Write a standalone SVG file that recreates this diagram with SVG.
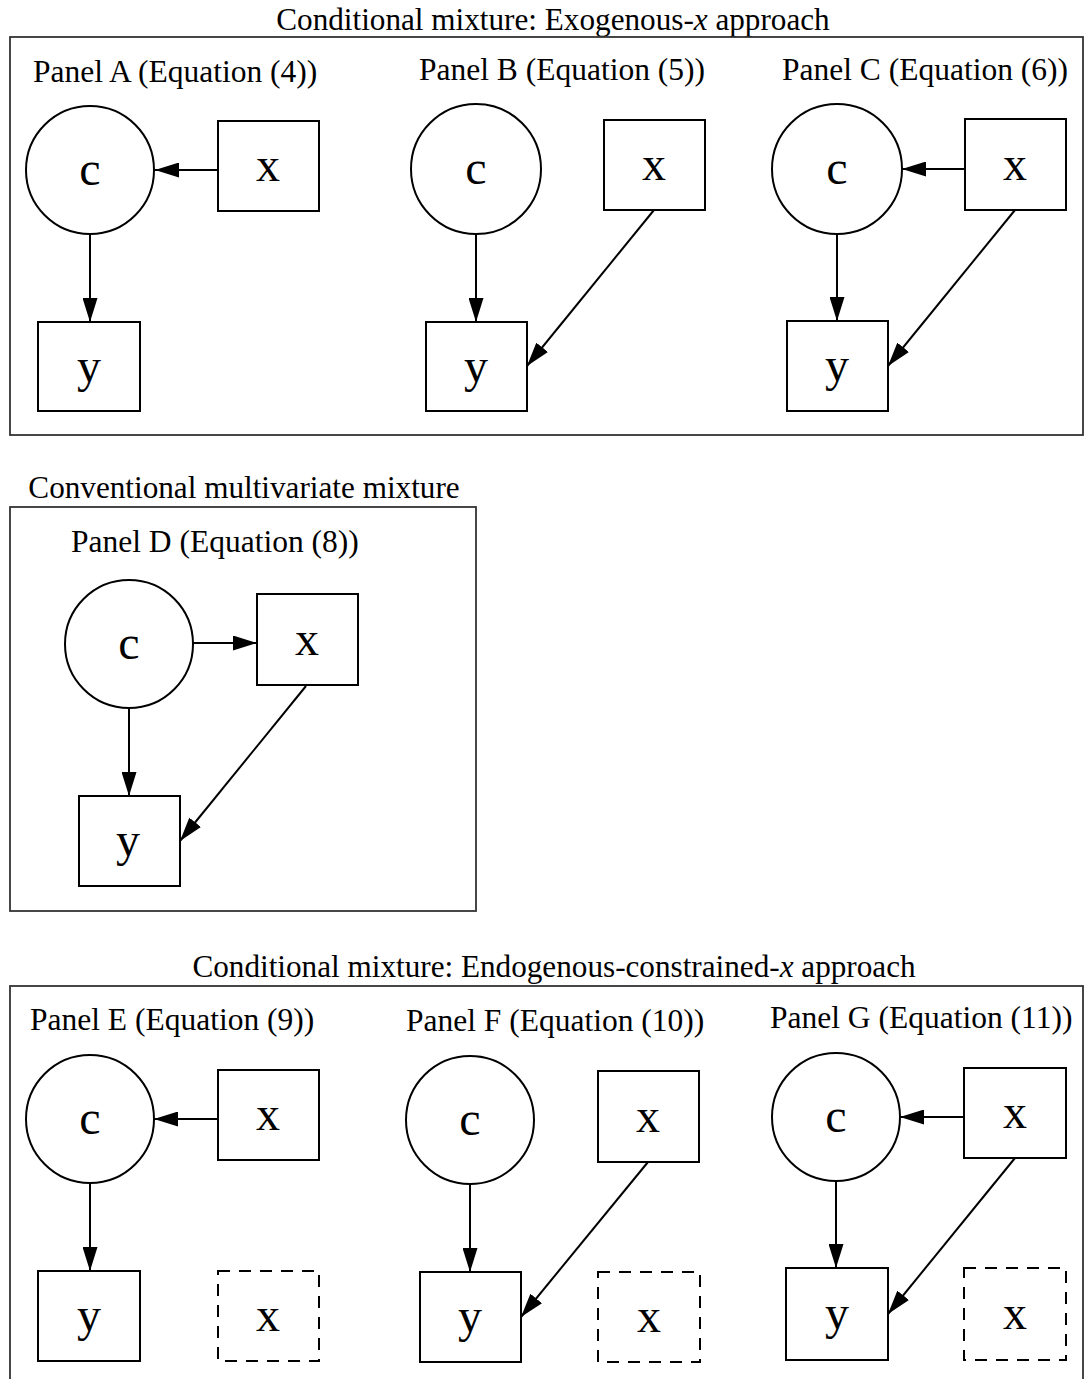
<svg xmlns="http://www.w3.org/2000/svg" width="1085" height="1379" viewBox="0 0 1085 1379">
<style>
text{font-family:"Liberation Serif","Times New Roman",serif;fill:#000}
.sec{font-size:31.2px;text-anchor:middle}
.ttl{font-size:31.5px}
.lbl{font-size:48px;text-anchor:middle}
.frame{fill:none;stroke:#333;stroke-width:1.8}
.nd{fill:#fff;stroke:#000;stroke-width:2}
.dash{fill:#fff;stroke:#000;stroke-width:2;stroke-dasharray:12,9}
.edge{stroke:#000;stroke-width:2;fill:none;marker-end:url(#ah)}
</style>
<defs>
<marker id="ah" viewBox="0 0 24 15" refX="24" refY="7.5" markerWidth="24" markerHeight="15" markerUnits="userSpaceOnUse" orient="auto">
<path d="M0,0 L24,7.5 L0,15 z" fill="#000"/>
</marker>
</defs>
<rect x="0" y="0" width="1085" height="1379" fill="#fff"/>

<g id="frames">
<text class="sec" x="553" y="30">Conditional mixture: Exogenous-<tspan font-style="italic">x</tspan> approach</text>
<rect class="frame" x="10" y="37" width="1073" height="398"/>
<text class="sec" x="244" y="498">Conventional multivariate mixture</text>
<rect class="frame" x="10" y="507" width="466" height="404"/>
<text class="sec" x="554" y="977">Conditional mixture: Endogenous-constrained-<tspan font-style="italic">x</tspan> approach</text>
<rect class="frame" x="10" y="986" width="1073" height="400"/>
</g>

<g id="titles">
<text class="ttl" x="33" y="82">Panel A (Equation (4))</text>
<text class="ttl" x="419" y="80">Panel B (Equation (5))</text>
<text class="ttl" x="782" y="80">Panel C (Equation (6))</text>
<text class="ttl" x="71" y="552">Panel D (Equation (8))</text>
<text class="ttl" x="30" y="1030">Panel E (Equation (9))</text>
<text class="ttl" x="406" y="1031">Panel F (Equation (10))</text>
<text class="ttl" x="770" y="1028">Panel G (Equation (11))</text>
</g>

<g id="connectors">
<!-- A -->
<line class="edge" x1="218" y1="170" x2="155" y2="170"/>
<line class="edge" x1="90" y1="234" x2="90" y2="322"/>
<!-- B -->
<line class="edge" x1="476" y1="233" x2="476" y2="322"/>
<line class="edge" x1="654" y1="210" x2="527" y2="366"/>
<!-- C -->
<line class="edge" x1="965" y1="169" x2="902" y2="169"/>
<line class="edge" x1="837" y1="233" x2="837" y2="321"/>
<line class="edge" x1="1015" y1="210" x2="888" y2="366"/>
<!-- D -->
<line class="edge" x1="193" y1="643" x2="257" y2="643"/>
<line class="edge" x1="129" y1="708" x2="129" y2="796"/>
<line class="edge" x1="306" y1="686" x2="180" y2="841"/>
<!-- E -->
<line class="edge" x1="218" y1="1119" x2="154" y2="1119"/>
<line class="edge" x1="90" y1="1183" x2="90" y2="1271"/>
<!-- F -->
<line class="edge" x1="470" y1="1184" x2="470" y2="1272"/>
<line class="edge" x1="648" y1="1162" x2="521" y2="1317"/>
<!-- G -->
<line class="edge" x1="964" y1="1117" x2="900" y2="1117"/>
<line class="edge" x1="836" y1="1181" x2="836" y2="1268"/>
<line class="edge" x1="1015" y1="1158" x2="888" y2="1314"/>
</g>

<!-- Panel A -->
<g id="A_c"><circle class="nd" cx="90" cy="170" r="64"/><text class="lbl" x="90" y="185">c</text></g>
<g id="A_x"><rect class="nd" x="218" y="121" width="101" height="90"/><text class="lbl" x="268" y="181">x</text></g>
<g id="A_y"><rect class="nd" x="38" y="322" width="102" height="89"/><text class="lbl" x="89" y="382">y</text></g>
<!-- Panel B -->
<g id="B_c"><circle class="nd" cx="476" cy="169" r="65"/><text class="lbl" x="476" y="184">c</text></g>
<g id="B_x"><rect class="nd" x="604" y="120" width="101" height="90"/><text class="lbl" x="654" y="180">x</text></g>
<g id="B_y"><rect class="nd" x="426" y="322" width="101" height="89"/><text class="lbl" x="476" y="382">y</text></g>
<!-- Panel C -->
<g id="C_c"><circle class="nd" cx="837" cy="169" r="65"/><text class="lbl" x="837" y="184">c</text></g>
<g id="C_x"><rect class="nd" x="965" y="119" width="101" height="91"/><text class="lbl" x="1015" y="180">x</text></g>
<g id="C_y"><rect class="nd" x="787" y="321" width="101" height="90"/><text class="lbl" x="837" y="381">y</text></g>
<!-- Panel D -->
<g id="D_c"><circle class="nd" cx="129" cy="644" r="64"/><text class="lbl" x="129" y="659">c</text></g>
<g id="D_x"><rect class="nd" x="257" y="594" width="101" height="91"/><text class="lbl" x="307" y="655">x</text></g>
<g id="D_y"><rect class="nd" x="79" y="796" width="101" height="90"/><text class="lbl" x="128" y="856">y</text></g>
<!-- Panel E -->
<g id="E_c"><circle class="nd" cx="90" cy="1119" r="64"/><text class="lbl" x="90" y="1134">c</text></g>
<g id="E_x"><rect class="nd" x="218" y="1070" width="101" height="90"/><text class="lbl" x="268" y="1130">x</text></g>
<g id="E_y"><rect class="nd" x="38" y="1271" width="102" height="90"/><text class="lbl" x="89" y="1331">y</text></g>
<g id="E_x2"><rect class="dash" x="218" y="1271" width="101" height="90"/><text class="lbl" x="268" y="1331">x</text></g>
<!-- Panel F -->
<g id="F_c"><circle class="nd" cx="470" cy="1120" r="64"/><text class="lbl" x="470" y="1135">c</text></g>
<g id="F_x"><rect class="nd" x="598" y="1071" width="101" height="91"/><text class="lbl" x="648" y="1132">x</text></g>
<g id="F_y"><rect class="nd" x="420" y="1272" width="101" height="90"/><text class="lbl" x="470" y="1332">y</text></g>
<g id="F_x2"><rect class="dash" x="598" y="1272" width="102" height="90"/><text class="lbl" x="649" y="1332">x</text></g>
<!-- Panel G -->
<g id="G_c"><circle class="nd" cx="836" cy="1117" r="64"/><text class="lbl" x="836" y="1132">c</text></g>
<g id="G_x"><rect class="nd" x="964" y="1068" width="102" height="90"/><text class="lbl" x="1015" y="1128">x</text></g>
<g id="G_y"><rect class="nd" x="786" y="1268" width="102" height="92"/><text class="lbl" x="837" y="1329">y</text></g>
<g id="G_x2"><rect class="dash" x="964" y="1268" width="102" height="92"/><text class="lbl" x="1015" y="1329">x</text></g>
</svg>
